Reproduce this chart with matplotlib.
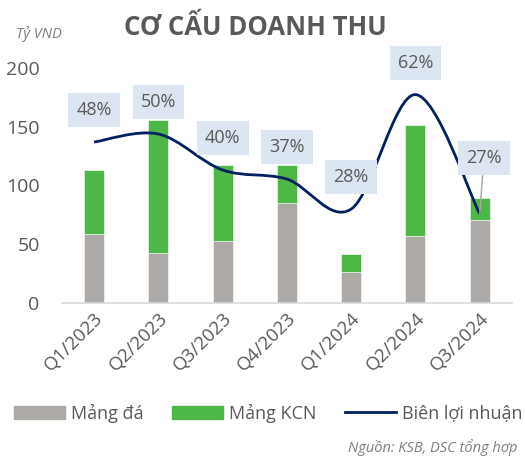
import matplotlib
matplotlib.use("Agg")
import matplotlib.pyplot as plt
from matplotlib.path import Path
from matplotlib.patches import PathPatch, Patch
from matplotlib.lines import Line2D
import numpy as np

plt.rcParams['font.family'] = ['Open Sans', 'DejaVu Sans']

categories = ["Q1/2023", "Q2/2023", "Q3/2023", "Q4/2023", "Q1/2024", "Q2/2024", "Q3/2024"]
mang_da = [59, 43, 53, 85, 27, 57, 71]
mang_kcn = [54, 113, 64, 32, 15, 94, 18]
bien_ln = [0.479, 0.503, 0.396, 0.369, 0.28, 0.62, 0.266]
bien_labels = ["48%", "50%", "40%", "37%", "28%", "62%", "27%"]
yticks = [0, 50, 100, 150, 200]

C_GREY = "#ADA9A7"
C_GREEN = "#4DB748"
C_LINE = "#002060"
C_TEXT = "#595959"
C_BOX = "#DCE6F2"

fig = plt.figure(figsize=(5.25, 4.57), dpi=100)
ax = fig.add_axes([0.118, 0.3363, 0.857, 0.5156])
x = np.arange(len(categories))
w = 0.31
ax.bar(x, mang_da, w, color=C_GREY, edgecolor="white", linewidth=0.4, zorder=2)
ax.bar(x, mang_kcn, w, bottom=mang_da, color=C_GREEN, edgecolor="white", linewidth=0.4, zorder=2)
ax.set_xlim(-0.5, len(categories) - 0.5)
ax.set_ylim(0, 200)
ax.set_yticks(yticks)
ax.set_yticklabels([str(v) for v in yticks], fontsize=14, color=C_TEXT)
ax.set_xticks(x)
ax.set_xticklabels(categories, rotation=45, ha="right", va="top", rotation_mode="anchor",
                   fontsize=13.5, color=C_TEXT)
ax.tick_params(axis="y", length=0, pad=16)
ax.tick_params(axis="x", length=0, pad=4)
for s in ["top", "right", "left"]:
    ax.spines[s].set_visible(False)
ax.spines["bottom"].set_color("#D9D9D9")
ax.spines["bottom"].set_linewidth(1.2)

ax2 = ax.twinx()
ax2.set_ylim(0, 0.7)
ax2.axis("off")

# smoothed line (Catmull-Rom style cubic Bezier)
pts = np.column_stack([x, bien_ln]).astype(float)
verts = [tuple(pts[0])]
codes = [Path.MOVETO]
n = len(pts)
for i in range(n - 1):
    p0 = pts[i - 1] if i > 0 else pts[i]
    p1 = pts[i]
    p2 = pts[i + 1]
    p3 = pts[i + 2] if i + 2 < n else pts[i + 1]
    c1 = p1 + (p2 - p0) / 6.0
    c2 = p2 - (p3 - p1) / 6.0
    verts += [tuple(c1), tuple(c2), tuple(p2)]
    codes += [Path.CURVE4] * 3
ax2.add_patch(PathPatch(Path(verts, codes), facecolor="none", edgecolor=C_LINE, lw=2.0, zorder=3))

for i, (v, lab) in enumerate(zip(bien_ln, bien_labels)):
    if i == len(bien_ln) - 1:
        ax2.annotate(lab, (x[i], v), xytext=(3, 40), textcoords="offset points",
                     ha="center", va="center", fontsize=13, color=C_TEXT,
                     bbox=dict(boxstyle="square,pad=0.45", fc=C_BOX, ec="none"),
                     arrowprops=dict(arrowstyle="-", color="#A6A6A6", lw=1, shrinkA=0, shrinkB=0),
                     zorder=5)
    else:
        ax2.annotate(lab, (x[i], v), xytext=(0, 23), textcoords="offset points",
                     ha="center", va="center", fontsize=13, color=C_TEXT,
                     bbox=dict(boxstyle="square,pad=0.45", fc=C_BOX, ec="none"), zorder=5)

fig.text(0.487, 0.94, "CƠ CẤU DOANH THU", ha="center", va="center", fontsize=18.5,
         fontweight="bold", color=C_TEXT)
fig.text(0.03, 0.926, "Tỷ VND", ha="left", va="center", fontsize=10.5, style="italic", color="#7F7F7F")
fig.text(0.985, 0.02, "Nguồn: KSB, DSC tổng hợp", ha="right", va="center", fontsize=10.5,
         style="italic", color="#7F7F7F")

handles = [Patch(color=C_GREY), Patch(color=C_GREEN), Line2D([0], [0], color=C_LINE, lw=2)]
fig.legend(handles, ["Mảng đá", "Mảng KCN", "Biên lợi nhuận"], loc="center",
           bbox_to_anchor=(0.511, 0.0963), ncol=3, frameon=False, fontsize=13,
           handlelength=2.8, handletextpad=0.33, columnspacing=1.6, labelcolor=C_TEXT)

fig.savefig("out.png", dpi=100)
